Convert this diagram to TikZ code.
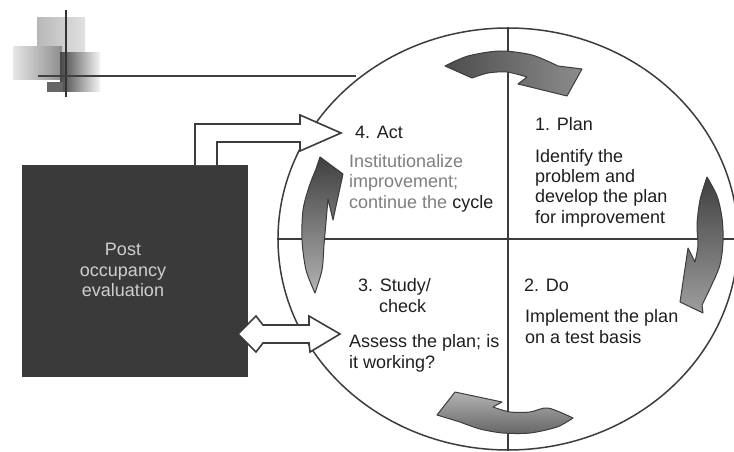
\documentclass[tikz,border=0pt]{standalone}
\usepackage{fontspec}
\setmainfont{Liberation Sans}
\usetikzlibrary{shapes.geometric,calc}
\definecolor{ink}{HTML}{1E1E1E}
\definecolor{frame}{HTML}{3C3C3C}
\definecolor{softtext}{HTML}{7E7E7E}
\definecolor{boxfill}{HTML}{3A3A3A}
\definecolor{boxtext}{HTML}{CFCFCF}
\tikzset{
  % multi-line texts are anchored at the baseline of their last line
  txt/.style={anchor=base west, inner sep=0pt, align=left, text=ink},
  frameline/.style={draw=frame, line width=1.5pt},
  cyclearrow/.style={draw=frame, line width=1pt, line join=round},
  hollow/.style={draw=frame, fill=white, line width=1.6pt, line join=miter},
}
\begin{document}
\begin{tikzpicture}[x=1pt, y=-1pt, font=\fontsize{18}{20.3}\selectfont]
\useasboundingbox (0,0) rectangle (734,452);

% corner ornament: overlapping shaded squares with a cross of rules
\fill[left color=black!28, right color=black!12] (37,18) rectangle (85,52);
\fill[left color=black!10, right color=black!45] (13,47) rectangle (62,80);
\fill[left color=black!72, right color=black!4] (60,53) rectangle (100,92);
\fill[black!60] (47,82) rectangle (63,92);
\draw[draw=black!80, line width=1.4pt] (66,10) -- (66,97);
\draw[draw=black!75, line width=1.6pt] (38,76) -- (356,76);

% the cycle wheel divided into four quadrants
\node[ellipse, draw=frame, line width=1.5pt, inner sep=0pt,
      minimum width=460pt, minimum height=422pt] (wheel) at (508,239) {};
\draw[frameline] (wheel.north) -- (wheel.south);
\draw[frameline] (wheel.west) -- (wheel.east);

% curved arrows running clockwise round the wheel
\path[cyclearrow, left color=black!70, right color=black!45]
  plot[smooth] coordinates {(445,66) (468,56) (500,51) (532,55) (558,66)}
  -- (582,69) -- (567,96) -- (518,84)
  -- plot[smooth] coordinates {(527,77) (507,72) (488,73) (472,78)} -- cycle;
\path[cyclearrow, top color=black!75, bottom color=black!38]
  plot[smooth] coordinates {(707,177) (717,196) (722,218) (723,242) (719,268) (702,305)}
  -- (703,313) -- (680,302) -- (688,248)
  -- plot[smooth] coordinates {(695,262) (698,245) (697,225) (700,200) (707,177)} -- cycle;
\path[cyclearrow, top color=black!30, bottom color=black!60]
  plot[smooth] coordinates {(573,418) (557,427) (530,433) (503,433) (480,429) (460,422)}
  -- (437,415) -- (455,392) -- (502,402)
  -- plot[smooth] coordinates {(493,407) (510,412) (530,412) (548,408) (573,418)} -- cycle;
\path[cyclearrow, top color=black!75, bottom color=black!30]
  plot[smooth] coordinates {(315,293) (306,270) (302,240) (303,210) (309,187) (316,169)}
  -- (320,157) -- (343,174) -- (333,220)
  -- plot[smooth] coordinates {(328,199) (326,222) (324,245) (322,270) (315,293)} -- cycle;

% quadrant texts
\node[txt] (act) at (355,138) {4. Act};
\node[txt, text=softtext] (actdesc) at (349,208)
  {Institutionalize\\improvement;\\continue the \textcolor{ink}{cycle}};
\node[txt] (plan) at (535,130) {1. Plan};
\node[txt] (plandesc) at (535,223)
  {Identify the\\problem and\\develop the plan\\for improvement};
\node[txt] (study) at (358,291) {3. Study/};
\node[txt] (check) at (379,312) {check};
\node[txt] (assess) at (349,368) {Assess the plan; is\\it working?};
\node[txt] (do) at (524,291) {2. Do};
\node[txt] (dodesc) at (525,343) {Implement the plan\\on a test basis};

% evaluation box
\node[fill=boxfill, inner sep=0pt, minimum width=226pt, minimum height=212pt,
      anchor=north west] (poe) at (22,165) {};
\node[align=center, text=boxtext, inner sep=0pt] (poetext) at (123,270)
  {Post\\occupancy\\evaluation};

% hollow elbow arrow from the box to "Act"
\coordinate (acttip) at (341,133);
\draw[hollow]
  ($(poe.north west)+(173,0)$) |- ($(acttip)+(-41,-9)$)
  -- ++(0,-9) -- (acttip) -- ++(-41,18) -- ++(0,-9)
  -| ($(poe.north west)+(195,0)$);

% hollow two-way arrow between the box and "Study/check"
\coordinate (studytip) at (340,334);
\coordinate (boxtip) at (238,334);
\draw[hollow]
  (boxtip) -- ++(18,-18) -- ++(7,9) -- ($(studytip)+(-31,-9)$)
  -- ++(0,-9) -- (studytip) -- ++(-30,18) -- ++(-1,-9)
  -- ($(boxtip)+(25,9)$) -- ++(-7,9) -- cycle;
\end{tikzpicture}
\end{document}
